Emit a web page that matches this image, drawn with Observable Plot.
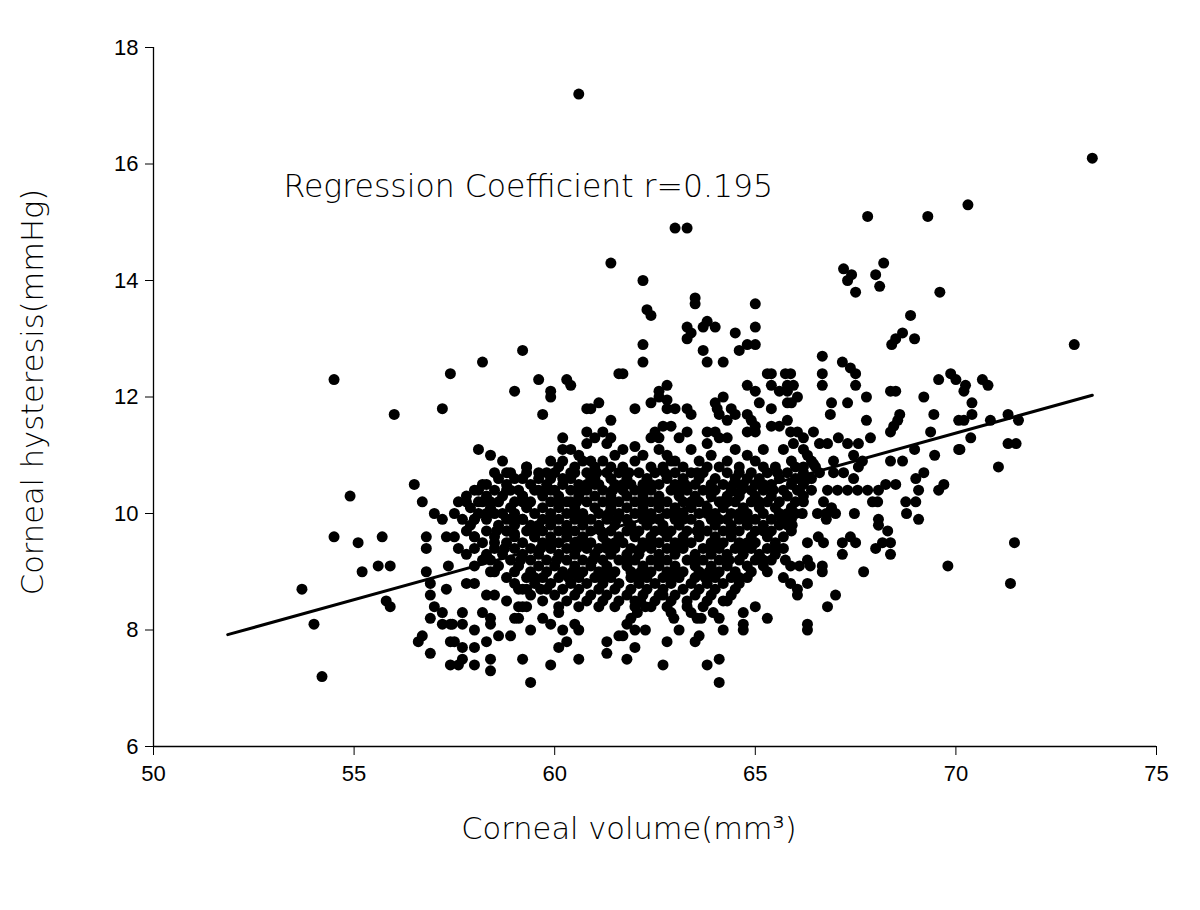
<!DOCTYPE html>
<html><head><meta charset="utf-8">
<script src="https://cdn.jsdelivr.net/npm/d3@7"></script>
<script src="https://cdn.jsdelivr.net/npm/@observablehq/plot@0.6"></script>
<style>body{margin:0;background:#fff}</style>
</head><body><div id="chart"></div>
<script>
// Individually read points: [corneal volume (mm3), corneal hysteresis (mmHg)]
const scatterPoints = [
[54.5,12.3],[56.0,11.7],[57.2,11.8],[57.4,12.4],[56.5,10.5],[54.9,10.3],[56.7,10.2],[57.0,10.0],[57.2,9.9],[54.5,9.6],[55.1,9.5],[55.7,9.6],[56.8,9.6],[57.3,9.6],[56.8,9.4],[55.2,9.0],[55.6,9.1],[55.9,9.1],[56.8,9.0],[57.35,9.1],[56.9,8.8],[57.3,8.7],[53.7,8.7],[56.9,8.6],[55.8,8.5],[55.9,8.4],[57.0,8.4],[57.2,8.3],[56.9,8.2],[57.2,8.1],[57.4,8.1],[54.0,8.1],[56.7,7.9],[56.6,7.8],[56.9,7.6],[54.2,7.2],[57.4,7.8],[57.4,7.4],
[58.2,12.6],[59.2,12.8],[59.6,12.3],[59.0,12.1],[60.3,12.3],[60.4,12.2],[59.9,12.1],[59.9,12.0],[59.7,11.7],[60.8,11.8],[60.9,11.8],[61.1,11.9],[61.4,11.6],[61.6,12.4],[60.2,11.3],[60.8,11.4],[61.0,11.3],[61.2,11.4],[61.4,11.3],[60.8,11.2],[61.3,11.2],[60.2,11.1],[60.4,11.1],[60.6,11.0],[60.2,10.9],[60.9,10.9],[61.5,11.0],[58.1,11.1],[58.4,11.0],[58.7,10.9],[59.3,10.8],[58.5,10.7],[58.8,10.7],[59.0,10.6],[59.8,10.7],[59.6,10.6],[60.5,10.7],[60.2,10.6],[61.4,10.8],[61.0,10.6],[58.2,10.5],[58.1,10.4],[58.9,10.4],[59.6,10.4],[59.9,10.4],[60.7,10.4],[61.1,10.5],[57.8,10.2],[58.1,10.2],[59.2,10.3],[60.4,10.2],
[57.8,8.8],[58.0,8.8],[58.3,8.6],[58.5,8.6],[58.8,8.5],[57.7,8.3],[58.2,8.3],[57.45,8.1],[57.7,8.1],[58.0,8.0],[58.4,8.1],[58.4,8.2],[59.0,8.2],[59.2,8.4],[59.4,8.0],[59.7,8.2],[59.9,8.1],[60.1,8.3],[60.2,8.0],[60.5,8.1],[60.6,8.0],[58.6,7.9],[58.9,7.9],[58.3,7.8],[57.5,7.8],[57.7,7.7],[58.0,7.7],[60.3,7.8],[60.1,7.7],[61.3,7.8],[61.3,7.6],[57.7,7.5],[58.4,7.5],[59.2,7.5],[59.9,7.4],[60.6,7.5],[57.6,7.4],[58.0,7.4],[58.4,7.3],[59.4,7.1],[61.6,7.9],
[58.3,10.0],[58.0,9.9],[57.5,9.6],[58.0,9.6],[58.5,9.5],[57.6,9.4],[57.8,9.3],[58.2,9.2],[58.0,9.1],[58.4,9.0],[58.7,10.0],[58.9,9.9],[59.2,9.9],[58.8,9.7],[59.0,9.65],[59.6,9.8],[59.5,9.6],[59.1,8.7],[59.3,8.7],[59.65,8.7],[59.1,8.4],[59.3,8.4],[59.1,8.2],
[63.5,13.7],[63.5,13.6],[62.3,13.5],[62.4,13.4],[65.0,13.6],[63.3,13.2],[63.4,13.1],[63.3,13.0],[63.7,13.2],[63.8,13.3],[64.0,13.2],[64.5,13.1],[65.0,13.2],[64.6,12.8],[64.8,12.9],[65.0,12.9],[62.2,12.9],[62.2,12.6],[63.7,12.8],[63.8,12.6],[64.2,12.6],[61.7,12.4],[65.3,12.4],[65.4,12.4],[65.75,12.4],[64.8,12.2],[65.0,12.1],[65.4,12.2],[65.6,12.1],[65.8,12.2],[62.8,12.2],[62.6,12.1],[62.6,12.0],[62.4,11.9],[62.8,11.95],[62.8,11.8],[63.0,11.8],[62.0,11.8],[63.3,11.8],[63.4,11.7],[64.0,11.9],[64.2,12.0],[64.05,11.8],[64.1,11.7],[64.4,11.8],[64.5,11.7],[64.3,11.6],[64.8,11.7],[64.9,11.6],[65.0,11.5],[64.8,11.4],[65.0,11.4],[65.1,11.9],[65.4,11.8],[65.4,11.5],[65.6,11.5],[65.8,11.6],[65.8,11.9],[65.8,12.1],
[62.7,11.5],[62.9,11.5],[62.5,11.4],[62.6,11.3],[62.4,11.3],[63.1,11.3],[63.3,11.4],[63.8,11.4],[64.0,11.4],[64.1,11.3],[64.3,11.3],[61.7,11.1],[62.0,11.15],[62.2,11.0],[62.6,11.1],[62.8,11.0],[63.0,10.9],[63.4,11.1],[63.8,11.2],[63.9,11.0],[64.5,11.1],[64.8,11.0],[65.2,11.1],[65.7,11.1],
[60.6,17.2],[63.0,14.9],[63.3,14.9],[61.4,14.3],[62.2,14.0],[73.4,16.1],[67.8,15.1],[69.3,15.1],[70.3,15.3],[67.2,14.2],[67.4,14.1],[67.3,14.0],[67.5,13.8],[68.2,14.3],[68.0,14.1],[68.1,13.9],[69.6,13.8],
[68.87,13.4],[68.67,13.1],[68.5,13.0],[68.4,12.9],[68.97,13.0],[66.67,12.7],[67.17,12.6],[67.37,12.5],[67.5,12.4],[66.67,12.4],[66.67,12.2],[67.5,12.2],[65.88,12.4],[65.95,12.2],[66.05,12.0],[65.9,11.9],[68.37,12.1],[68.5,12.1],[67.77,12.0],[69.2,12.0],[66.9,11.9],[67.3,11.9],[66.87,11.7],[69.87,12.4],[70.0,12.3],[69.57,12.3],[68.6,11.7],[68.55,11.6],[68.45,11.5],[68.37,11.4],[69.45,11.7],[67.77,11.6],[69.37,11.4],[70.07,11.6],[65.88,11.4],[66.05,11.4],[66.2,11.3],[66.45,11.4],[67.07,11.3],[67.3,11.2],[67.57,11.2],[67.87,11.3],[66.6,11.2],[66.8,11.2],[65.95,11.2],[66.2,11.1],[68.97,11.1],[70.07,11.1],[67.45,11.0],[67.67,10.9],[67.57,10.8],[68.37,10.9],[68.67,10.9],[69.47,11.0],[66.95,10.9],[66.95,10.7],[67.2,10.7],[67.45,10.6],[66.3,11.0],[66.2,10.8],[66.45,10.85],[66.3,10.6],[66.1,10.6],[69.2,10.7],[69.0,10.6],[68.25,10.5],[68.5,10.5],[69.7,10.5],[69.57,10.4],[66.8,10.4],[67.05,10.4],[67.3,10.4],[67.55,10.4],[67.8,10.4],[68.07,10.4],[66.4,10.4],[66.05,10.4],[69.07,10.4],
[72.95,12.9],[70.66,12.3],[70.8,12.2],[70.24,12.2],[70.2,12.1],[70.4,11.9],[70.4,11.7],[70.2,11.6],[70.86,11.6],[71.3,11.7],[71.56,11.6],[70.37,11.3],[71.3,11.2],[71.5,11.2],[70.1,11.1],[71.06,10.8],[71.46,9.5],[71.36,8.8],
[66.2,10.2],[66.7,10.2],[66.9,10.1],[67.92,10.2],[68.05,10.2],[68.75,10.2],[69.0,10.2],[66.17,10.0],[66.55,10.0],[66.77,10.0],[67.0,10.0],[66.77,9.9],[67.47,10.0],[68.07,9.9],[68.07,9.8],[68.3,9.7],[68.77,10.0],[69.07,9.9],[65.92,9.8],[66.3,9.5],[66.57,9.6],[66.7,9.5],[67.17,9.5],[67.37,9.6],[67.5,9.5],[67.17,9.3],[68.0,9.4],[68.17,9.5],[68.37,9.5],[68.37,9.3],[69.8,9.1],[65.88,9.1],[66.1,9.1],[66.3,9.2],[66.37,9.1],[66.67,9.1],[66.67,9.0],[67.7,9.0],[66.3,8.8],[66.05,8.7],[66.05,8.6],[65.88,8.8],[67.0,8.6],[66.8,8.4],[66.3,8.1],[66.3,8.0],
[62.7,8.6],[64.3,8.5],[65.0,8.4],[65.3,8.2],[62.9,8.3],[62.97,8.2],[63.4,8.3],[63.55,8.2],[63.65,8.2],[63.95,8.3],[64.1,8.2],[64.7,8.3],[64.7,8.1],[64.7,8.0],[62.14,8.5],[62.26,8.4],[62.06,8.3],[61.9,8.2],[61.8,8.1],[62.0,8.0],[62.26,8.0],[61.7,7.9],[63.1,8.0],[64.2,8.0],[62.8,7.8],[63.6,7.9],[63.5,7.8],[62.0,7.7],[61.8,7.5],[62.7,7.4],[63.8,7.4],[64.1,7.5],[64.1,7.1],[65.8,10.0],[65.8,9.8],[65.75,9.2],[65.7,8.9]
];

// Dense core, estimated row by row: hysteresis level and the volumes at that level
const coreLevels = [10.9,10.8,10.7,10.6,10.5,10.4,10.3,10.2,10.1,10.0,9.9,9.8,9.7,9.6,9.5,9.4,9.3,9.2,9.1,9.0,8.9,8.8,8.7,8.6,8.5,8.4];
const coreVolumes = [
[59.9,60.7,61.2,62.0,62.9,63.6,64.3,65.0,65.9,66.4],
[59.3,60.1,60.5,61.0,61.7,62.4,62.7,63.2,63.8,64.1,64.6,65.2,65.5,66.0,66.5],
[58.9,59.6,60.0,60.8,61.3,61.6,62.1,62.5,63.0,63.4,63.7,64.3,64.9,65.3,65.8,66.2,66.6],
[58.6,59.2,59.9,60.4,60.9,61.4,61.8,62.3,62.8,63.2,63.6,64.0,64.5,64.8,65.1,65.6,66.0,66.4],
[58.3,58.8,59.4,59.8,60.2,60.6,61.0,61.5,61.9,62.2,62.6,63.0,63.5,63.9,64.2,64.7,65.0,65.4,65.9,66.2],
[58.0,58.5,59.1,59.5,60.0,60.4,60.8,61.2,61.7,62.0,62.4,62.9,63.3,63.7,64.0,64.4,64.9,65.2,65.7,66.1],
[57.8,58.3,58.7,59.2,59.7,60.1,60.6,61.0,61.4,61.8,62.2,62.6,63.1,63.5,63.9,64.3,64.6,65.0,65.4,65.8,66.2],
[57.6,58.2,58.6,59.0,59.4,59.9,60.3,60.8,61.2,61.6,62.0,62.4,62.8,63.2,63.6,64.1,64.5,64.9,65.3,65.6,66.0],
[57.9,58.4,58.9,59.3,59.7,60.1,60.5,61.0,61.4,61.8,62.2,62.6,63.0,63.4,63.8,64.2,64.7,65.1,65.5,65.9],
[57.5,58.1,58.5,59.0,59.5,59.9,60.3,60.7,61.1,61.6,62.0,62.4,62.8,63.2,63.6,64.0,64.4,64.8,65.2,65.6,66.0],
[57.7,58.3,58.8,59.2,59.7,60.1,60.5,60.9,61.3,61.8,62.2,62.6,63.0,63.4,63.9,64.3,64.6,65.0,65.4,65.9],
[57.9,58.6,59.0,59.4,59.9,60.3,60.7,61.1,61.5,61.9,62.3,62.7,63.1,63.6,64.0,64.4,64.8,65.2,65.6],
[57.8,58.3,58.8,59.3,59.7,60.1,60.5,60.9,61.4,61.8,62.1,62.5,62.9,63.3,63.8,64.2,64.6,65.0,65.4,65.9],
[58.0,58.5,59.0,59.5,59.9,60.3,60.7,61.2,61.6,62.0,62.4,62.8,63.2,63.6,64.0,64.4,64.9,65.3,65.7],
[58.2,58.8,59.2,59.7,60.1,60.5,60.9,61.3,61.7,62.2,62.6,63.0,63.4,63.9,64.2,64.6,65.0,65.5],
[58.0,58.5,59.0,59.4,59.9,60.3,60.8,61.1,61.5,61.9,62.4,62.8,63.2,63.7,64.1,64.5,64.9,65.3,65.7],
[58.3,58.7,59.2,59.6,60.1,60.5,61.0,61.4,61.8,62.1,62.6,63.0,63.5,63.9,64.3,64.7,65.1,65.5],
[58.4,58.9,59.4,59.8,60.3,60.7,61.2,61.6,62.0,62.4,62.8,63.3,63.7,64.1,64.6,65.0,65.4],
[58.6,59.1,59.6,60.0,60.5,60.9,61.3,61.8,62.2,62.6,63.0,63.5,63.9,64.3,64.8,65.2],
[58.5,59.0,59.4,59.8,60.2,60.7,61.1,61.5,61.9,62.4,62.8,63.2,63.6,64.1,64.5,64.9,65.3],
[58.8,59.3,59.7,60.1,60.6,61.0,61.4,61.9,62.3,62.7,63.1,63.5,64.0,64.4,64.8],
[59.0,59.5,59.9,60.4,60.8,61.2,61.6,62.1,62.5,62.9,63.4,63.8,64.2,64.6],
[59.2,59.8,60.2,60.6,61.1,61.5,61.9,62.3,62.7,63.2,63.6,64.0,64.5],
[59.4,60.0,60.5,60.9,61.3,61.8,62.2,62.6,63.0,63.5,63.9,64.4],
[59.7,60.3,60.8,61.2,61.6,62.0,62.5,62.9,63.3,63.8,64.2],
[60.1,60.6,61.1,61.5,62.0,62.4,62.8,63.3,63.7]
];
// Second, thinner pass over the most crowded rows (points lying between the ones above)
const coreLevelsB = [10.7,10.5,10.4,10.2,10.0,9.9,9.7,9.5,9.4,9.2,9.0,8.9];
const coreVolumesB = [
[59.3,60.4,61.05,61.85,62.75,63.55,64.6,65.55],
[60.8,61.7,62.4,63.25,64.45,65.2],
[58.8,59.75,60.6,61.45,62.2,63.1,63.85,64.65,65.45],
[58.4,59.2,60.1,60.55,61.4,62.2,62.6,63.4,64.3,65.1],
[60.5,61.35,62.2,63.0,63.8,64.6],
[58.0,59.0,59.9,60.7,61.55,62.4,63.2,64.1,64.8,65.65],
[58.55,59.5,60.3,61.15,61.95,62.7,63.55,64.4,65.2],
[59.9,60.7,61.5,62.4,63.2,64.05,64.8],
[58.75,59.65,60.55,61.3,62.15,63.0,63.9,64.7,65.5],
[59.15,60.05,60.95,61.8,62.6,63.5,64.35,65.2],
[60.45,61.3,62.15,63.0,63.85],
[59.5,60.35,61.2,62.1,62.9,63.75,64.6]
];

// Regression line end points
const fitVolume = [51.85, 73.4];
const fitHysteresis = [7.92, 12.03];

const xTicks = [50, 55, 60, 65, 70, 75];
const yTicks = [6, 8, 10, 12, 14, 16, 18];
const annotation = "Regression Coefficient r=0.195";
const xTitle = "Corneal volume(mm³)";
const yTitle = "Corneal hysteresis(mmHg)";

const points = [
  ...scatterPoints.map(([v, h]) => ({v, h})),
  ...coreLevels.flatMap((h, i) => coreVolumes[i].map(v => ({v, h}))),
  ...coreLevelsB.flatMap((h, i) => coreVolumesB[i].map(v => ({v, h})))
];
const fit = fitVolume.map((v, i) => ({v, h: fitHysteresis[i]}));

const titleFont = "'DejaVu Sans', Verdana, sans-serif";

const chart = Plot.plot({
  width: 1200, height: 910,
  marginLeft: 153, marginRight: 44, marginTop: 47, marginBottom: 164,
  x: {domain: [50, 75], label: null},
  y: {domain: [6, 18], label: null},
  style: {fontFamily: "'Liberation Sans', Arial, sans-serif", fontSize: "22px", background: "#fff", color: "#000", overflow: "visible"},
  marks: [
    Plot.axisX({ticks: xTicks, tickSize: 9, tickPadding: 10, fontSize: 22, label: null, tickFormat: d => String(d)}),
    Plot.axisY({ticks: yTicks, tickSize: 8, tickPadding: 7, fontSize: 22, label: null, tickFormat: d => String(d)}),
    Plot.ruleX([xTicks[0]], {strokeWidth: 1.3}),
    Plot.ruleY([yTicks[0]], {strokeWidth: 1.3}),
    Plot.dot(points, {x: "v", y: "h", r: 5.5, fill: "#000", stroke: "none"}),
    Plot.line(fit, {x: "v", y: "h", stroke: "#000", strokeWidth: 3}),
    Plot.text([annotation], {text: d => d, frameAnchor: "top-left", dx: 130, dy: 127, textAnchor: "start", fontSize: 31.5, fontFamily: titleFont, fontWeight: 200, fill: "#000"}),
    Plot.text([xTitle], {text: d => d, frameAnchor: "bottom", dx: -26, dy: 92, fontSize: 30.5, fontFamily: titleFont, fontWeight: 200, fill: "#000"}),
    Plot.text([yTitle], {text: d => d, frameAnchor: "left", dx: -120, dy: -5, rotate: -90, textAnchor: "middle", fontSize: 30.5, fontFamily: titleFont, fontWeight: 200, fill: "#000"})
  ]
});
document.getElementById("chart").appendChild(chart);
</script>
</body></html>
